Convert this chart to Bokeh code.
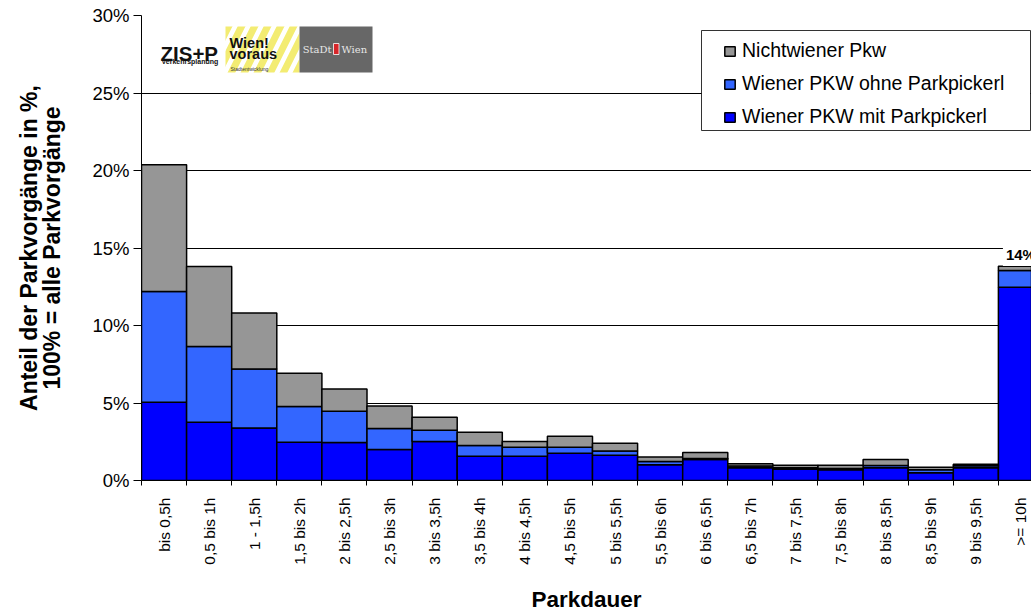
import math

from bokeh.plotting import figure
from bokeh.models import (Range1d, FixedTicker, LinearAxis, Grid, Legend, LegendItem,
                          Label, BoxAnnotation, ColumnDataSource)
from bokeh.core.properties import value
from bokeh.embed import file_html
from bokeh.resources import INLINE

# Parking duration classes
categories = ["bis 0,5h", "0,5 bis 1h", "1 - 1,5h", "1,5 bis 2h", "2 bis 2,5h",
              "2,5 bis 3h", "3 bis 3,5h", "3,5 bis 4h", "4 bis 4,5h", "4,5 bis 5h",
              "5 bis 5,5h", "5,5 bis 6h", "6 bis 6,5h", "6,5 bis 7h", "7 bis 7,5h",
              "7,5 bis 8h", "8 bis 8,5h", "8,5 bis 9h", "9 bis 9,5h", ">= 10h"]

# Share of all parking events in % per vehicle group
mit_pickerl = [5.05, 3.76, 3.38, 2.47, 2.45, 2.00, 2.52, 1.57, 1.57, 1.76,
               1.63, 1.01, 1.36, 0.83, 0.73, 0.69, 0.82, 0.50, 0.82, 12.47]
ohne_pickerl = [7.14, 4.89, 3.82, 2.30, 2.02, 1.35, 0.73, 0.69, 0.58, 0.39,
                0.28, 0.22, 0.06, 0.10, 0.10, 0.08, 0.15, 0.19, 0.13, 1.08]
nichtwiener = [8.18, 5.15, 3.60, 2.15, 1.44, 1.45, 0.83, 0.86, 0.37, 0.71,
               0.50, 0.28, 0.38, 0.15, 0.16, 0.22, 0.38, 0.17, 0.10, 0.28]

series_names = ["Wiener PKW mit Parkpickerl", "Wiener PKW ohne Parkpickerl", "Nichtwiener Pkw"]
series_colors = ["#0000FF", "#3366FF", "#969696"]

y_ticks = [0, 5, 10, 15, 20, 25, 30]
y_tick_labels = ["0%", "5%", "10%", "15%", "20%", "25%", "30%"]

FONT = "Liberation Sans"

# frame geometry (pixels) and the visible part of the category axis
W, H = 1031, 614
F_LEFT, F_TOP, F_BOTTOM = 141, 15, 480
X_END = 19.734
Y_END = 30


def dx(px):
    return (px - F_LEFT) / (W - F_LEFT) * X_END


def dy(py):
    return (F_BOTTOM - py) / (F_BOTTOM - F_TOP) * Y_END


n = len(categories)
centers = [i + 0.5 for i in range(n)]
totals = [a + b + c for a, b, c in zip(mit_pickerl, ohne_pickerl, nichtwiener)]

source = ColumnDataSource(dict(x=centers, mit=mit_pickerl, ohne=ohne_pickerl, nicht=nichtwiener))

p = figure(width=W, height=H, output_backend="svg", toolbar_location=None,
           x_range=Range1d(0, X_END), y_range=Range1d(0, Y_END),
           x_axis_type=None, y_axis_type=None,
           min_border_left=F_LEFT, min_border_right=0, min_border_top=F_TOP,
           min_border_bottom=H - F_BOTTOM)
p.outline_line_color = None
p.background_fill_color = "white"
p.border_fill_color = "white"

# y axis with percent labels
yaxis = LinearAxis(ticker=FixedTicker(ticks=y_ticks),
                   major_label_overrides={t: l for t, l in zip(y_ticks, y_tick_labels)},
                   axis_line_color="black", axis_line_width=1,
                   major_tick_out=8, major_tick_in=0, minor_tick_out=0, minor_tick_in=0,
                   major_tick_line_color="black",
                   major_label_standoff=4,
                   major_label_text_font=FONT, major_label_text_font_size="18.5px",
                   major_label_text_color="black",
                   axis_label="Anteil der Parkvorgänge in %,\n100% = alle Parkvorgänge",
                   axis_label_text_font=FONT, axis_label_text_font_size="23px",
                   axis_label_text_font_style="bold", axis_label_text_color="black",
                   axis_label_text_align="center",
                   axis_label_text_line_height=0.9,
                   axis_label_standoff=24)
p.add_layout(yaxis, "left")

# x axis: labels at class centers, tick marks at class boundaries
xaxis = LinearAxis(ticker=FixedTicker(ticks=centers, minor_ticks=list(range(n + 1))),
                   major_label_overrides={c: l for c, l in zip(centers, categories)},
                   major_label_orientation=math.pi / 2,
                   axis_line_color="black", axis_line_width=1,
                   major_tick_out=0, major_tick_in=0,
                   minor_tick_out=5, minor_tick_in=0, minor_tick_line_color="black",
                   major_label_standoff=12,
                   major_label_text_font=FONT, major_label_text_font_size="15.5px",
                   major_label_text_color="black",
                   axis_label="Parkdauer",
                   axis_label_text_font=FONT, axis_label_text_font_size="22.5px",
                   axis_label_text_font_style="bold", axis_label_text_color="black",
                   axis_label_text_line_height=1.0,
                   axis_label_standoff=19)
p.add_layout(xaxis, "below")

p.add_layout(Grid(dimension=1, ticker=yaxis.ticker, grid_line_color="black",
                  grid_line_width=1))

bars = p.vbar_stack(["mit", "ohne", "nicht"], x="x", width=1, source=source,
                    fill_color=series_colors, line_color="black", line_width=1.5)

# legend frame
p.add_layout(BoxAnnotation(left=dx(701), right=dx(1030), top=dy(30), bottom=dy(130),
                           fill_color="white", fill_alpha=1,
                           line_color="black", line_width=1, line_alpha=0.8))

legend = Legend(items=[LegendItem(label=series_names[i], renderers=[bars[i]]) for i in (2, 1, 0)],
                location=(582, 352), padding=0, margin=0, spacing=10,
                glyph_width=13, glyph_height=12, label_height=20, label_standoff=6,
                label_text_font=FONT, label_text_font_size="19.5px", label_text_color="black",
                background_fill_alpha=0, border_line_alpha=0)
p.add_layout(legend)

# total label above the last class
last = n - 1
p.add_layout(Label(x=centers[last], y=totals[last] + 0.75, text=f"{round(totals[last])}%",
                   text_align="center", text_baseline="alphabetic",
                   text_font=FONT, text_font_size="15px", text_font_style="bold",
                   text_color="black", background_fill_color="white", padding=3))

# logos in the upper left corner
p.quad(left=[dx(225)], right=[dx(299)], top=[dy(26)], bottom=[dy(72)],
       fill_color="white", line_color=None,
       hatch_pattern="/", hatch_color="#F3EC72", hatch_weight=7, hatch_scale=26)
p.quad(left=[dx(299)], right=[dx(372)], top=[dy(26)], bottom=[dy(72)],
       fill_color="#676767", line_color=None)
p.text(x=[dx(160)], y=[dy(53)], text=["ZIS+P"], text_font=value(FONT),
       text_font_size="20.5px", text_font_style="bold", text_color="#111111",
       text_baseline="alphabetic")
p.text(x=[dx(161)], y=[dy(61)], text=["Verkehrsplanung"], text_font=value(FONT),
       text_font_size="7px", text_font_style="bold", text_color="#111111",
       text_baseline="alphabetic")
p.text(x=[dx(229)], y=[dy(42)], text=["Wien!"], text_font=value(FONT),
       text_font_size="14.5px", text_font_style="bold", text_color="#111111",
       text_baseline="alphabetic")
p.text(x=[dx(229)], y=[dy(53)], text=["voraus"], text_font=value(FONT),
       text_font_size="14.5px", text_font_style="bold", text_color="#111111",
       text_baseline="alphabetic")
p.text(x=[dx(230)], y=[dy(68)], text=["Stadtentwicklung"], text_font=value(FONT),
       text_font_size="5px", text_color="#333333", text_baseline="alphabetic")
p.text(x=[dx(331)], y=[dy(49)], text=["StaDt"], text_font=value("DejaVu Serif"),
       text_font_size="10px", text_color="#E6E6E6", text_align="right",
       text_baseline="middle")
p.text(x=[dx(341)], y=[dy(49)], text=["Wien"], text_font=value("DejaVu Serif"),
       text_font_size="10px", text_color="#E6E6E6", text_align="left",
       text_baseline="middle")
p.quad(left=[dx(333)], right=[dx(338.5)], top=[dy(43)], bottom=[dy(54)],
       fill_color="#D7262A", line_color="white", line_width=0.8)

open("out.html", "w").write(file_html(p, INLINE))
